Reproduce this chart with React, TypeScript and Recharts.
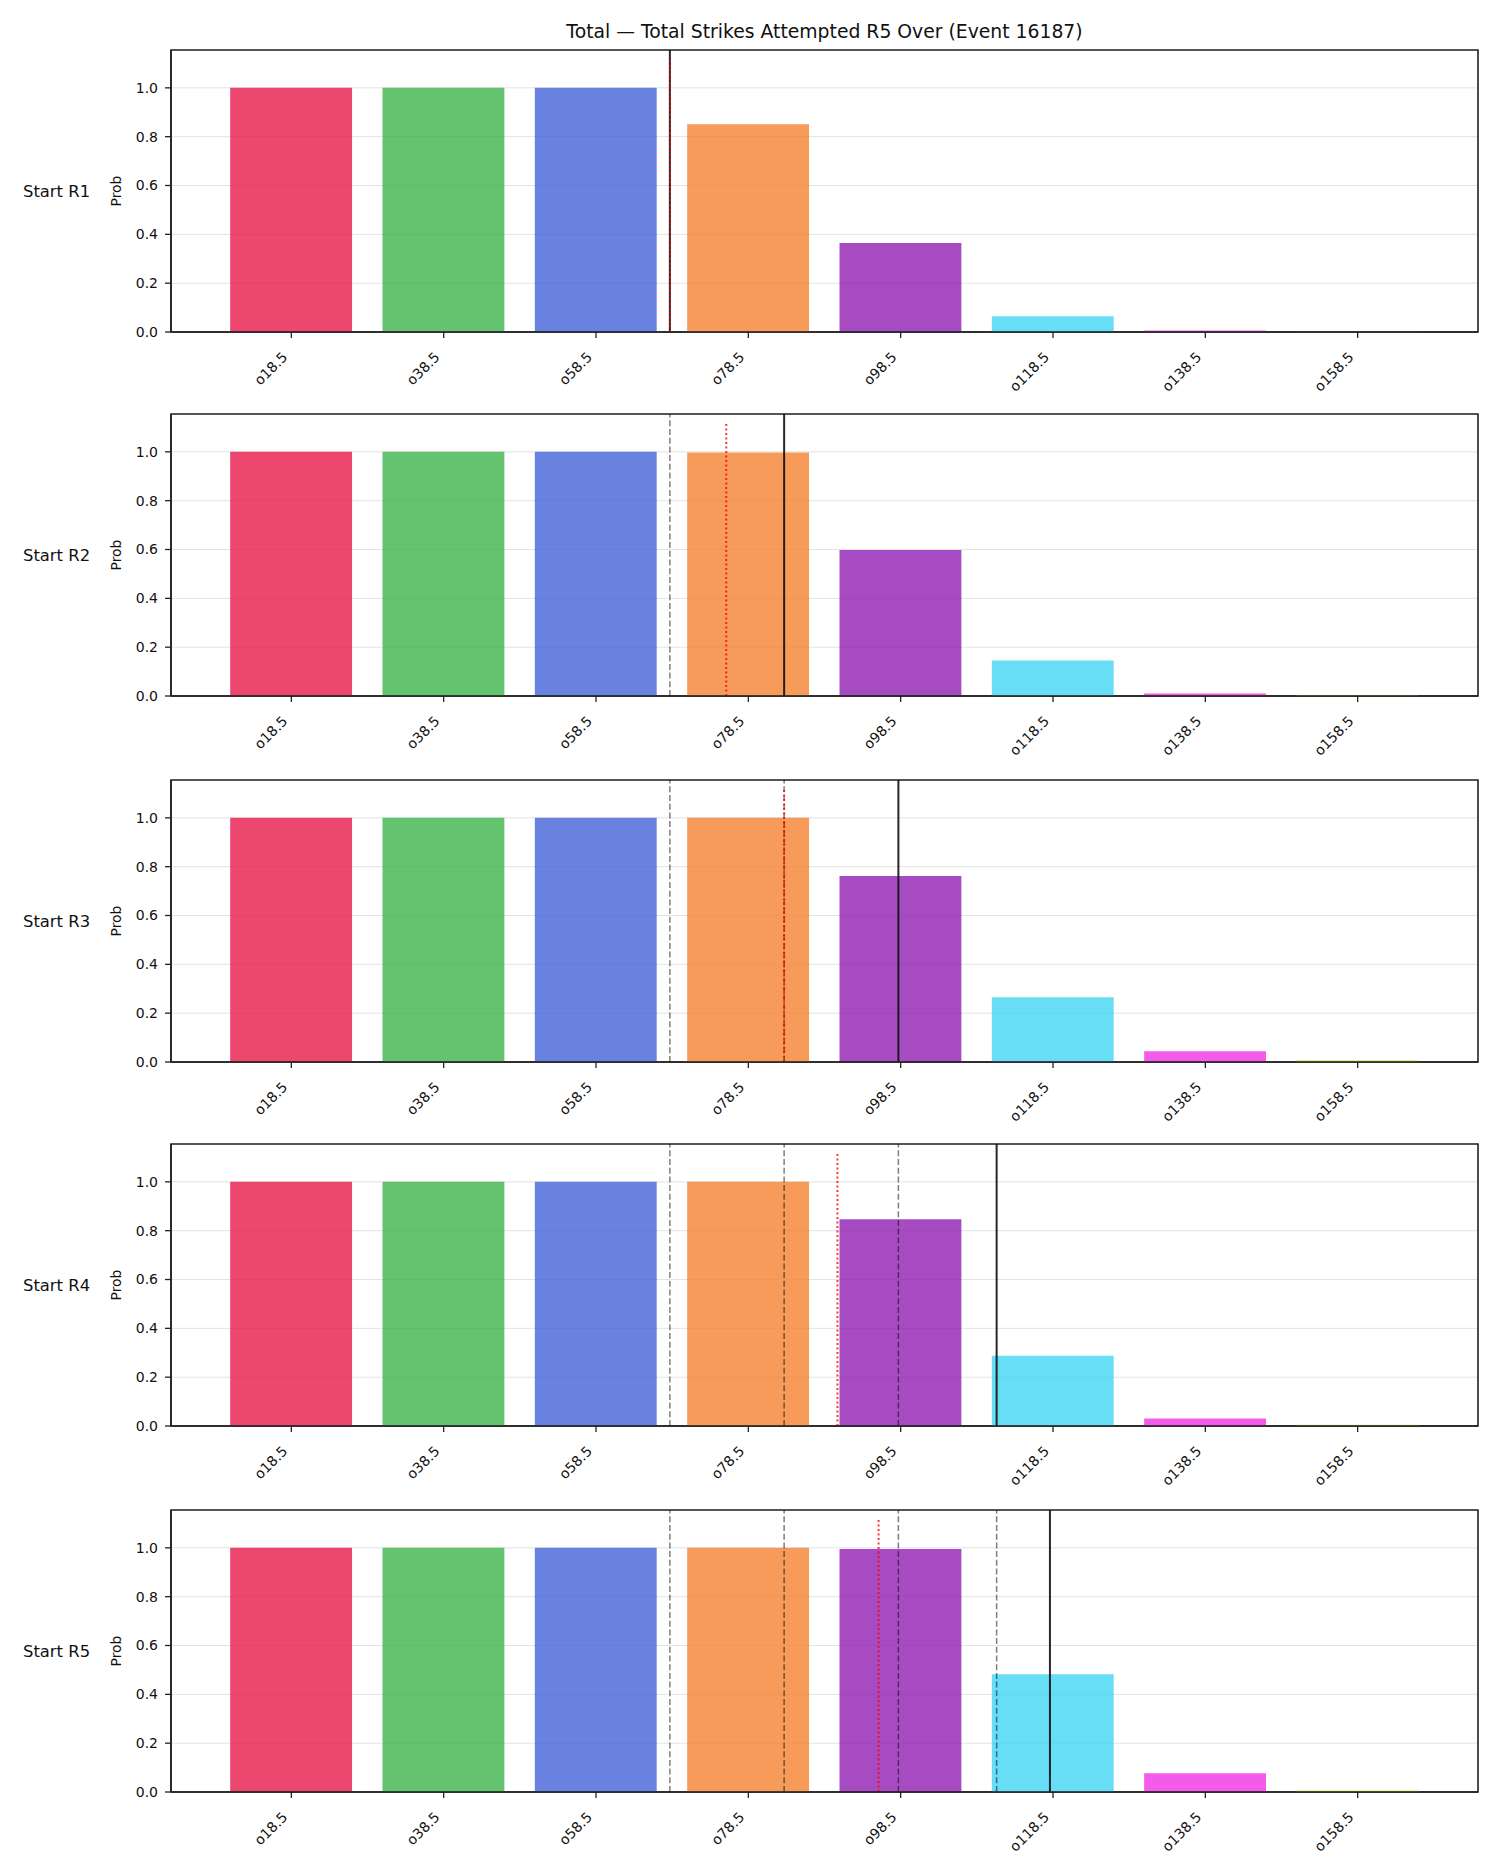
import React from 'react'
import { BarChart, Bar, XAxis, YAxis, CartesianGrid, Cell, ReferenceLine, ReferenceArea } from 'recharts'

const FONT = '"DejaVu Sans", sans-serif'

const categories = ['o18.5', 'o38.5', 'o58.5', 'o78.5', 'o98.5', 'o118.5', 'o138.5', 'o158.5']
const colors = ['#e6194b', '#3cb44b', '#4363d8', '#f58231', '#911eb4', '#42d4f4', '#f032e6', '#bfef45']
const rounds = ['Start R1', 'Start R2', 'Start R3', 'Start R4', 'Start R5']

const probR1 = [1, 1, 1, 0.851, 0.365, 0.064, 0.006, 0.001]
const probR2 = [1, 1, 1, 0.997, 0.598, 0.145, 0.01, 0.004]
const probR3 = [1, 1, 1, 1, 0.762, 0.265, 0.044, 0.007]
const probR4 = [1, 1, 1, 1, 0.847, 0.288, 0.031, 0.005]
const probR5 = [1, 1, 1, 1, 0.995, 0.482, 0.077, 0.006]
const probs = [probR1, probR2, probR3, probR4, probR5]

// projected total at the start of each round (solid), and the running pace (dotted)
const projected = [68.2, 83.2, 98.2, 111.1, 118.1]
const pace = [68.2, 75.6, 83.2, 90.2, 95.6]

const yTicks = [0, 0.2, 0.4, 0.6, 0.8, 1.0]
const xTicks = categories.map((_, i) => i)

// line values sit on the same axis as the bars: o18.5 -> 0, step 20
const toPos = (v: number) => (v - 18.5) / 20

const W = 1500
const H = 1875
const LEFT = 171
const RIGHT = 22
const X_DOMAIN: [number, number] = [-0.79, 7.79]
const Y_MAX = 1.155
const PLOT_H = 282
const PANEL_TOPS = [50, 414, 780, 1144, 1510]
const BAR_SIZE = ((W - LEFT - RIGHT) / (X_DOMAIN[1] - X_DOMAIN[0])) * 0.8

const XTick = (props: any) => {
  const { x, y, payload } = props
  return (
    <g transform={`translate(${x - 3},${y + 18})`}>
      <text transform="rotate(-45)" textAnchor="end" fontSize={14} fontFamily={FONT} fill="#111">
        {categories[payload.value]}
      </text>
    </g>
  )
}

function Panel({ idx }: { idx: number }) {
  const data = categories.map((c, i) => ({ idx: i, label: c, prob: probs[idx][i] }))
  const earlier = projected.slice(0, idx)
  return (
    <div style={{ position: 'absolute', left: 0, top: PANEL_TOPS[idx] - 10 }}>
      <BarChart width={W} height={PLOT_H + 84} data={data} margin={{ top: 10, right: RIGHT, bottom: 0, left: 0 }}>
        <CartesianGrid vertical={false} stroke="#e3e3e3" strokeWidth={1} />
        <XAxis
          type="number"
          dataKey="idx"
          domain={X_DOMAIN}
          allowDataOverflow
          ticks={xTicks}
          interval={0}
          height={74}
          tickSize={6}
          tick={<XTick />}
          tickLine={{ stroke: '#222', strokeWidth: 1.3 }}
          axisLine={{ stroke: '#222', strokeWidth: 1.6 }}
        />
        <YAxis
          type="number"
          domain={[0, Y_MAX]}
          allowDataOverflow
          ticks={yTicks}
          width={LEFT}
          tickSize={6}
          tickMargin={7}
          tickFormatter={(v: number) => v.toFixed(1)}
          tick={{ fontSize: 14, fontFamily: FONT, fill: '#111' }}
          tickLine={{ stroke: '#222', strokeWidth: 1.3 }}
          axisLine={{ stroke: '#222', strokeWidth: 1.6 }}
        />
        <ReferenceArea x1={X_DOMAIN[0]} x2={X_DOMAIN[1]} y1={0} y2={Y_MAX} fill="none" stroke="#222" strokeWidth={1.6} />
        <Bar dataKey="prob" barSize={BAR_SIZE} isAnimationActive={false}>
          {data.map((d, i) => (
            <Cell key={d.label} fill={colors[i]} fillOpacity={0.8} />
          ))}
        </Bar>
        {earlier.map((v, i) => (
          <ReferenceLine key={'prev' + i} x={toPos(v)} stroke="#000" strokeOpacity={0.5} strokeWidth={1.5} strokeDasharray="6 2.7" />
        ))}
        <ReferenceLine x={toPos(projected[idx])} stroke="#111" strokeOpacity={0.9} strokeWidth={2} />
        <ReferenceLine
          segment={[{ x: toPos(pace[idx]), y: 0 }, { x: toPos(pace[idx]), y: 1.12 }]}
          stroke="#ff0000"
          strokeOpacity={0.8}
          strokeWidth={2}
          strokeDasharray="2 2.5"
        />
      </BarChart>
    </div>
  )
}

export default function App() {
  return (
    <div style={{ position: 'absolute', left: 0, top: 0, width: W, height: H, background: '#fff' }}>
      <svg width={W} height={H} style={{ position: 'absolute', left: 0, top: 0 }}>
        <text x={(LEFT + W - RIGHT) / 2} y={38} textAnchor="middle" fontSize={18.8} fontFamily={FONT} fill="#111">
          Total — Total Strikes Attempted R5 Over (Event 16187)
        </text>
        {rounds.map((r, i) => {
          const cy = PANEL_TOPS[i] + PLOT_H / 2
          return (
            <g key={r}>
              <text x={23} y={cy + 6} fontSize={16.4} fontFamily={FONT} fill="#111">{r}</text>
              <text
                x={121}
                y={cy}
                transform={`rotate(-90 121 ${cy})`}
                textAnchor="middle"
                fontSize={13.9}
                fontFamily={FONT}
                fill="#111"
              >
                Prob
              </text>
            </g>
          )
        })}
      </svg>
      {rounds.map((r, i) => (
        <Panel key={r} idx={i} />
      ))}
    </div>
  )
}
